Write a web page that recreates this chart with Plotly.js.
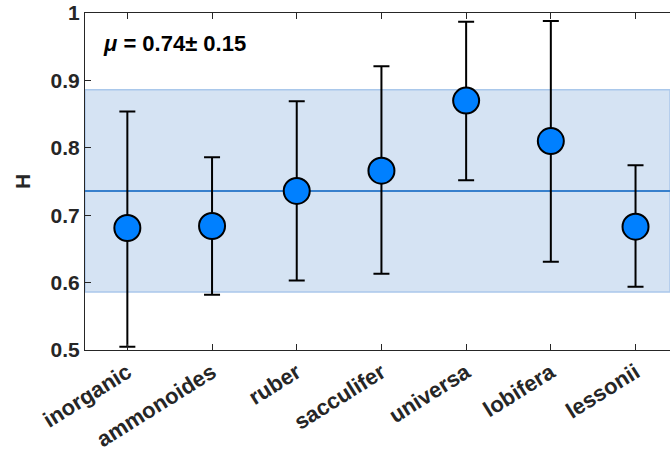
<!DOCTYPE html>
<html>
<head>
<meta charset="utf-8">
<script src="https://cdn.plot.ly/plotly-3.0.1.min.js"></script>
<style>html,body{margin:0;padding:0;background:#fff;}#chart{width:670px;height:457px;}</style>
</head>
<body>
<div id="chart"></div>
<script>
var categories = ["inorganic", "ammonoides", "ruber", "sacculifer", "universa", "lobifera", "lessonii"];
var hValues = [0.681, 0.684, 0.736, 0.766, 0.870, 0.810, 0.683];
var upperBounds = [0.854, 0.786, 0.869, 0.921, 0.987, 0.988, 0.774];
var lowerBounds = [0.505, 0.582, 0.603, 0.613, 0.752, 0.631, 0.594];
var meanH = 0.736;
var sdH = 0.150;
var yTickVals = [0.5, 0.6, 0.7, 0.8, 0.9, 1.0];
var yTickText = ["0.5", "0.6", "0.7", "0.8", "0.9", "1"];

var xPos = categories.map(function(_, i){ return i + 1; });
var errPlus = upperBounds.map(function(u, i){ return u - hValues[i]; });
var errMinus = lowerBounds.map(function(l, i){ return hValues[i] - l; });
function b(s){ return "<b>" + s + "</b>"; }

var fontFam = "Liberation Sans, Arial, sans-serif";
var axisColor = "#262626";

var trace = {
  x: xPos, y: hValues, type: "scatter", mode: "markers",
  marker: {size: 26, color: "#0080FF", line: {color: "#000000", width: 2}},
  error_y: {type: "data", symmetric: false, array: errPlus, arrayminus: errMinus,
            color: "#000000", thickness: 2, width: 8},
  hoverinfo: "none", cliponaxis: false
};

var layout = {
  width: 670, height: 457,
  margin: {l: 85, r: 0, t: 13, b: 107},
  paper_bgcolor: "#ffffff", plot_bgcolor: "#ffffff",
  showlegend: false,
  font: {family: fontFam, color: "#262626"},
  xaxis: {
    range: [0.5, 7.407], tickvals: xPos, ticktext: categories.map(b),
    tickangle: -32, ticks: "inside", ticklen: 6, tickcolor: axisColor,
    showline: true, linecolor: axisColor, linewidth: 1, mirror: "ticks",
    showgrid: false, zeroline: false,
    tickfont: {family: fontFam, size: 22, color: "#262626"}
  },
  yaxis: {
    range: [0.5, 1.0], tickvals: yTickVals, ticktext: yTickText.map(b),
    ticks: "inside", ticklen: 6, tickcolor: axisColor,
    showline: true, linecolor: axisColor, linewidth: 1, mirror: false,
    showgrid: false, zeroline: false,
    tickfont: {family: fontFam, size: 21, color: "#262626"},
    title: {text: b("H"), font: {family: fontFam, size: 21, color: "#262626"}, standoff: 14}
  },
  shapes: [
    {type: "rect", xref: "paper", yref: "y", x0: 0, x1: 1, y0: meanH - sdH, y1: meanH + sdH,
     fillcolor: "rgb(213,227,243)", line: {color: "rgb(170,200,235)", width: 1.5}, layer: "below"},
    {type: "line", xref: "paper", yref: "y", x0: 0, x1: 1, y0: meanH, y1: meanH,
     line: {color: "rgb(56,128,204)", width: 2}, layer: "below"}
  ],
  annotations: [
    {xref: "paper", yref: "y", x: 0.028, y: 0.955, xanchor: "left", yanchor: "middle",
     showarrow: false,
     text: "<b><i>μ</i> = " + meanH.toFixed(2) + "± " + sdH.toFixed(2) + "</b>",
     font: {family: fontFam, size: 22, color: "#000000"}}
  ]
};

Plotly.newPlot("chart", [trace], layout, {displayModeBar: false, staticPlot: true});
</script>
</body>
</html>
